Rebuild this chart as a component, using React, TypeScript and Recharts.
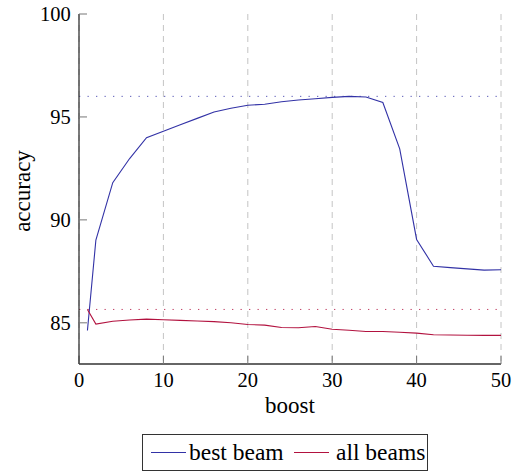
import React from "react";
import {
  LineChart,
  Line,
  XAxis,
  YAxis,
  CartesianGrid,
  ReferenceLine,
  Label,
} from "recharts";

const boost = [1, 2, 4, 6, 8, 10, 12, 14, 16, 18, 20, 22, 24, 26, 28, 30, 32, 34, 36, 38, 40, 42, 44, 46, 48, 50];

const bestBeam = [
  84.63, 89.02, 91.81, 92.98, 93.99, 94.3, 94.62, 94.93, 95.24, 95.42, 95.57, 95.62, 95.74,
  95.82, 95.88, 95.95, 96.0, 95.97, 95.7, 93.45, 89.05, 87.75, 87.68, 87.62, 87.56, 87.58,
];

const allBeams = [
  85.65, 84.94, 85.08, 85.14, 85.18, 85.15, 85.12, 85.09, 85.06, 85.0, 84.92, 84.89, 84.77,
  84.76, 84.82, 84.69, 84.64, 84.58, 84.58, 84.54, 84.5, 84.42, 84.41, 84.4, 84.39, 84.39,
];

const xTicks = [0, 10, 20, 30, 40, 50];
const yTicks = [85, 90, 95, 100];

const data = boost.map((b, i) => ({ boost: b, best: bestBeam[i], all: allBeams[i] }));

const BLUE = "#3232a6";
const RED = "#b2123f";
const FONT = "Liberation Serif, Times New Roman, Times, Tinos, Nimbus Roman, Noto Serif, DejaVu Serif, serif";

function YLabel(props: any) {
  const { viewBox } = props;
  const cx = viewBox.x + 30;
  const cy = viewBox.y + viewBox.height / 2 + 2;
  return (
    <text
      x={cx}
      y={cy}
      transform={`rotate(-90 ${cx} ${cy})`}
      textAnchor="middle"
      style={{ fontFamily: FONT, fontSize: 23 }}
      fill="#000"
    >
      accuracy
    </text>
  );
}

function LegendBox() {
  const text: React.CSSProperties = {
    position: "absolute",
    top: 0,
    height: 35,
    lineHeight: "35px",
    fontFamily: FONT,
    fontSize: 23.5,
    color: "#000",
    whiteSpace: "nowrap",
  };
  const sample = (color: string): React.CSSProperties => ({
    position: "absolute",
    top: 17,
    width: 35,
    height: 0,
    borderTop: `1.2px solid ${color}`,
  });
  return (
    <div
      style={{
        position: "absolute",
        left: 142,
        top: 434,
        width: 286,
        height: 37,
        border: "1px solid #333",
        boxSizing: "border-box",
      }}
    >
      <div style={{ ...sample(BLUE), left: 8 }} />
      <div style={{ ...text, left: 46 }}>best beam</div>
      <div style={{ ...sample(RED), left: 151 }} />
      <div style={{ ...text, left: 193 }}>all beams</div>
    </div>
  );
}

export default function App() {
  const tickStyle = { fontFamily: FONT, fontSize: 20.5, fill: "#000" };
  const axisLine = { stroke: "#333", strokeWidth: 1.3 };
  const tickLine = { stroke: "#777", strokeWidth: 1 };
  return (
    <div style={{ position: "absolute", left: 0, top: 0, width: 513, height: 472, fontFamily: FONT }}>
      <LineChart
        width={513}
        height={472}
        data={data}
        margin={{ top: 14, right: 12, bottom: 0, left: 0 }}
        style={{ fontFamily: FONT }}
      >
        <CartesianGrid
          xAxisId="b"
          yAxisId="l"
          horizontal={false}
          stroke="#c4c4c4"
          strokeDasharray="6 5"
        />
        <XAxis
          xAxisId="b"
          type="number"
          dataKey="boost"
          domain={[0, 50]}
          ticks={xTicks}
          height={108}
          tick={tickStyle}
          tickSize={-8}
          tickMargin={16.4}
          axisLine={axisLine}
          tickLine={tickLine}
        >
          <Label
            value="boost"
            position="insideTop"
            offset={33}
            style={{ fontFamily: FONT, fontSize: 23, fill: "#000" }}
          />
        </XAxis>
        <XAxis
          xAxisId="t"
          orientation="top"
          type="number"
          dataKey="boost"
          domain={[0, 50]}
          ticks={xTicks}
          height={0}
          tick={false}
          tickSize={-8}
          axisLine={axisLine}
          tickLine={tickLine}
        />
        <YAxis
          yAxisId="l"
          type="number"
          domain={[83, 100]}
          ticks={yTicks}
          width={79}
          tick={tickStyle}
          tickSize={-8}
          tickMargin={16.3}
          axisLine={axisLine}
          tickLine={tickLine}
        >
          <Label content={<YLabel />} />
        </YAxis>
        <YAxis
          yAxisId="r"
          orientation="right"
          type="number"
          domain={[83, 100]}
          ticks={yTicks}
          width={0}
          tick={false}
          tickSize={-8}
          axisLine={axisLine}
          tickLine={tickLine}
        />
        <ReferenceLine
          xAxisId="b"
          yAxisId="l"
          y={Math.max(...bestBeam)}
          stroke={BLUE}
          strokeOpacity={0.8}
          strokeDasharray="1.3 7.2"
        />
        <ReferenceLine
          xAxisId="b"
          yAxisId="l"
          y={allBeams[0]}
          stroke={RED}
          strokeOpacity={0.8}
          strokeDasharray="1.3 7.2"
        />
        <Line
          xAxisId="b"
          yAxisId="l"
          type="linear"
          dataKey="best"
          stroke={BLUE}
          strokeWidth={1.1}
          dot={false}
          isAnimationActive={false}
        />
        <Line
          xAxisId="b"
          yAxisId="l"
          type="linear"
          dataKey="all"
          stroke={RED}
          strokeWidth={1.1}
          dot={false}
          isAnimationActive={false}
        />
      </LineChart>
      <LegendBox />
    </div>
  );
}
